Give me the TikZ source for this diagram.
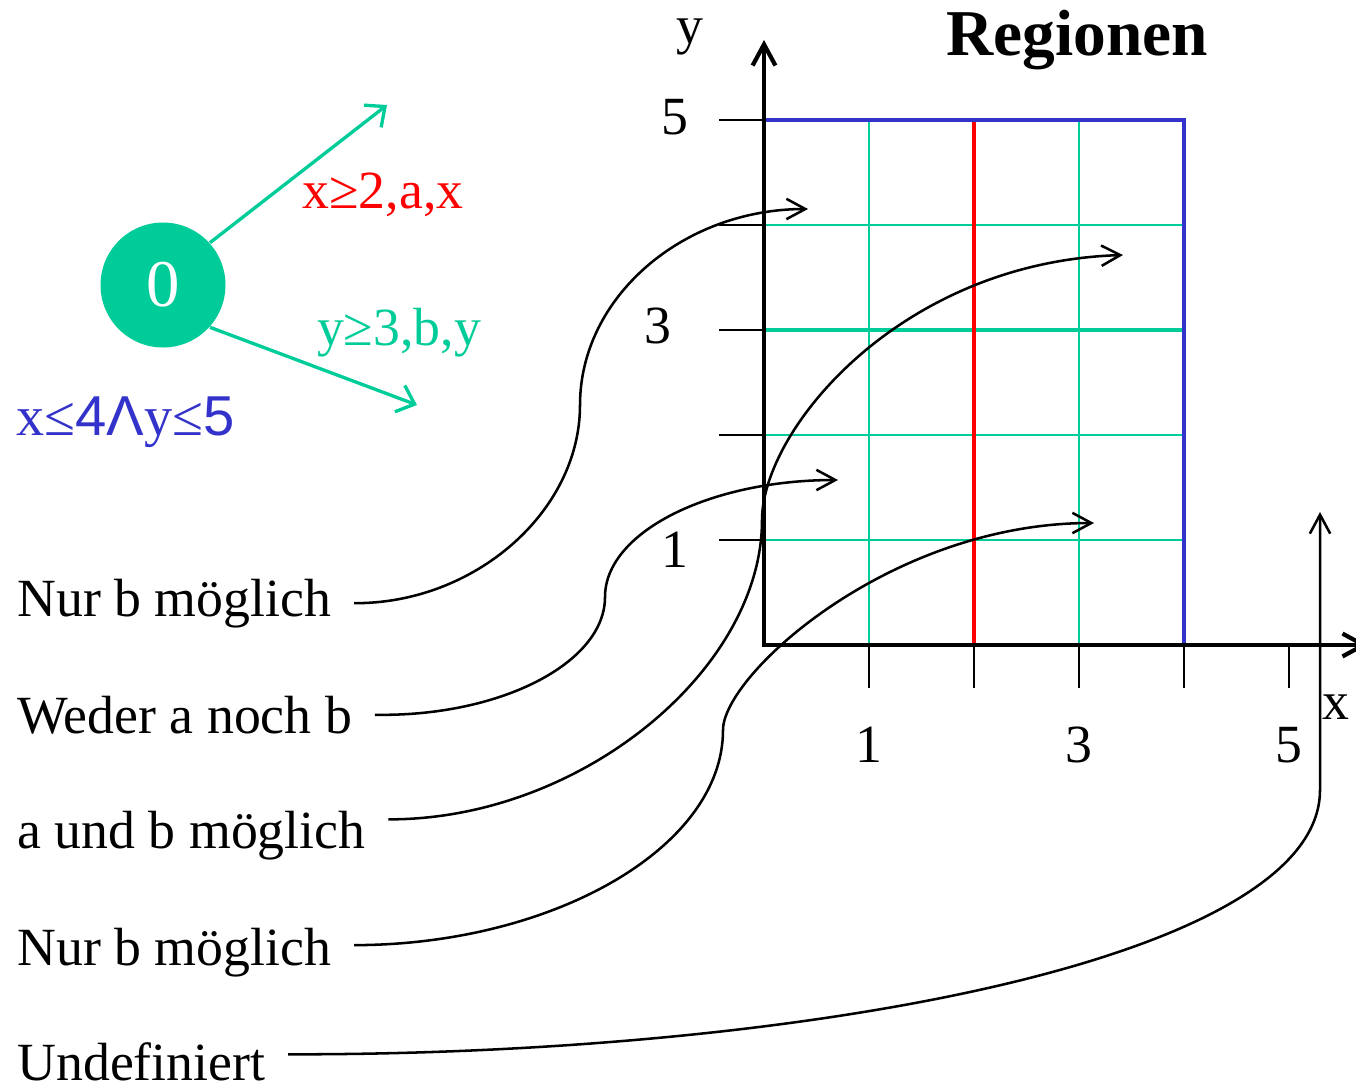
\documentclass[tikz,border=0pt]{standalone}
\usepackage{fontspec}
\setmainfont{Liberation Serif}
\newfontfamily\sansfont{Liberation Sans}
\usetikzlibrary{arrows.meta}

\definecolor{regteal}{RGB}{0,204,153}
\definecolor{regblue}{RGB}{51,51,204}
\definecolor{regred}{RGB}{255,0,0}

\begin{document}
\begin{tikzpicture}[x=0.1mm, y=-0.1mm,
  font=\fontsize{15.3}{18}\selectfont,
  edgearrow/.style={regteal, line width=0.95pt, -{Straight Barb[length=4.5pt,width=8pt]}},
  pointer/.style={line width=0.72pt, -{Straight Barb[length=5.4pt,width=5.8pt]}},
  axis/.style={line width=1.2pt, {Straight Barb[length=6pt,width=6.5pt]}-{Straight Barb[length=6pt,width=6.5pt]}},
  gridline/.style={regteal, line width=0.8pt},
  tick/.style={line width=0.65pt},
  region/.style={anchor=base west}]
  \useasboundingbox (0,0) rectangle (1356,1087);
  % Automat
  \node[circle, fill=regteal, text=white, minimum size=1.25cm, inner sep=0pt,
    font=\fontsize{19}{22}\selectfont] (s0) at (163,285) {0};
  \coordinate (ta) at (387,105);
  \coordinate (tb) at (417,405);
  \draw[edgearrow] (s0.42) -- (ta);
  \draw[edgearrow] (s0.-42) -- (tb);
  \node[regred] (ga) at (383,195) {x≥2,a,x};
  \node[regteal] (gb) at (399,333) {y≥3,b,y};
  \node[regblue, anchor=west, font=\fontsize{16}{19}\selectfont] (inv) at (4,422)
    {x≤{\sansfont 4Λ}y≤{\sansfont 5}};
  % Gitter
  \foreach \i in {1,...,4}
    \draw[gridline] (764,{645-105*\i}) -- (1184,{645-105*\i});
  \foreach \i in {1,3}
    \draw[gridline] ({764+105*\i},645) -- ({764+105*\i},120);
  \draw[gridline, line width=1.15pt] (764,330) -- (1184,330);
  \draw[regred, line width=1.2pt] (974,645) -- (974,120);
  \draw[regblue, line width=1.2pt] (764,120) -- (1184,120) -- (1184,645);
  \foreach \i in {1,...,5} {
    \draw[tick] (719,{645-105*\i}) -- (764,{645-105*\i});
    \draw[tick] ({764+105*\i},645) -- ({764+105*\i},688);
  }
  \coordinate (O) at (764,645);
  \coordinate (ytip) at (764,40);
  \coordinate (xtip) at (1368,645);
  \draw[axis] (ytip) -- (O) -- (xtip);
  \node (ylab) at (690,37) {y};
  \node (xlab) at (1336,707) {x};
  \node (yfive) at (675,117) {5};
  \node (ythree) at (658,326) {3};
  \node (yone) at (675,550) {1};
  \node (xone) at (869,745) {1};
  \node (xthree) at (1079,745) {3};
  \node (xfive) at (1289,745) {5};
  \node[font=\bfseries\fontsize{18.6}{22}\selectfont] (title) at (1077,40) {Regionen};
  % Regionen
  \node[region] (nurb1) at (5,616) {Nur b möglich};
  \node[region] (weder) at (5,733) {Weder a noch b};
  \node[region] (aundb) at (5,848) {a und b möglich};
  \node[region] (nurb2) at (5,965) {Nur b möglich};
  \node[region] (undef) at (5,1080) {Undefiniert};
  \coordinate (p1) at (808,209);
  \coordinate (p2) at (838,480);
  \coordinate (p3) at (1123,255);
  \coordinate (p4) at (1094,523);
  \coordinate (p5) at (1320,512);
  \draw[pointer] ([xshift=3pt]nurb1.east) .. controls (474,604) and (580,512) .. (580,405)
    .. controls (580,297) and (683,209) .. (p1);
  \draw[pointer] ([xshift=3pt]weder.east) .. controls (500,717) and (605,663) .. (605,597)
    .. controls (605,532) and (710,480) .. (p2);
  \draw[pointer] ([xshift=3pt,yshift=4.5pt]aundb.east) .. controls (580,820) and (762,670) .. (762,520)
    .. controls (762,430) and (900,262) .. (p3);
  \draw[pointer] ([xshift=3pt,yshift=2pt]nurb2.east) .. controls (552,945) and (723,848) .. (723,730)
    .. controls (723,675) and (890,523) .. (p4);
  \draw[pointer] ([xshift=3pt,yshift=2pt]undef.east) .. controls (800,1055) and (1320,960) .. (1320,790)
    -- (p5);
\end{tikzpicture}
\end{document}
